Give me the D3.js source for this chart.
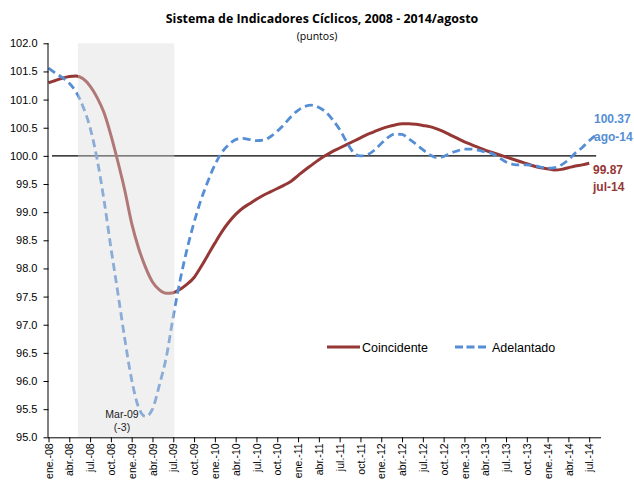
<!DOCTYPE html>
<html>
<head>
<meta charset="utf-8">
<script src="https://cdn.jsdelivr.net/npm/d3@7"></script>
<style>
  body { margin: 0; background: #fff; }
  text { font-family: "Liberation Sans", Arial, sans-serif; }
</style>
</head>
<body>
<script>
// monthly values, ene-08 .. jul-14 (coincidente) and ene-08 .. ago-14 (adelantado)
const coincidente = [
  101.30, 101.34, 101.38, 101.41, 101.42, 101.37, 101.24, 101.04, 100.77, 100.37,
  99.90, 99.39, 98.80, 98.36, 98.02, 97.76, 97.62, 97.56, 97.57, 97.63,
  97.72, 97.84, 98.03, 98.24, 98.45, 98.65, 98.82, 98.96, 99.07, 99.15,
  99.23, 99.30, 99.36, 99.42, 99.48, 99.55, 99.65, 99.75, 99.84, 99.93,
  100.01, 100.08, 100.14, 100.20, 100.26, 100.32, 100.38, 100.43, 100.48, 100.52,
  100.55, 100.57, 100.57, 100.56, 100.54, 100.52, 100.48, 100.43, 100.37, 100.31,
  100.25, 100.20, 100.15, 100.10, 100.06, 100.02, 99.98, 99.94, 99.90, 99.86,
  99.82, 99.79, 99.77, 99.75, 99.76, 99.79, 99.82, 99.84, 99.87
];
const adelantado = [
  101.56, 101.47, 101.39, 101.29, 101.13, 100.87, 100.50, 99.95, 99.22, 98.37,
  97.57, 96.75, 96.02, 95.53, 95.37, 95.50, 95.93, 96.43, 97.15, 97.80,
  98.35, 98.82, 99.22, 99.55, 99.84, 100.06, 100.20, 100.29, 100.31, 100.29,
  100.27, 100.28, 100.34, 100.44, 100.56, 100.70, 100.81, 100.88, 100.90, 100.86,
  100.78, 100.64, 100.47, 100.25, 100.06, 100.00, 100.02, 100.10, 100.22, 100.33,
  100.39, 100.38, 100.30, 100.21, 100.11, 100.02, 99.97, 99.99, 100.05, 100.09,
  100.12, 100.12, 100.10, 100.07, 100.04, 99.97, 99.89, 99.85, 99.84, 99.84,
  99.83, 99.80, 99.78, 99.79, 99.84, 99.93, 100.05, 100.15, 100.27, 100.37
];
// one label every 3 months, starting at ene.-08
const tickLabels = [
  "ene.-08", "abr.-08", "jul.-08", "oct.-08", "ene.-09", "abr.-09", "jul.-09",
  "oct.-09", "ene.-10", "abr.-10", "jul.-10", "oct.-10", "ene.-11", "abr.-11",
  "jul.-11", "oct.-11", "ene.-12", "abr.-12", "jul.-12", "oct.-12", "ene.-13",
  "abr.-13", "jul.-13", "oct.-13", "ene.-14", "abr.-14", "jul.-14"
];
const yTicks = [95, 95.5, 96, 96.5, 97, 97.5, 98, 98.5, 99, 99.5, 100, 100.5, 101, 101.5, 102];
// recession band (month index)
const shade = [4.25, 18.15];

const width = 634, height = 485;
const x = d3.scaleLinear().domain([0, 79.7]).range([48.5, 601]);
const y = d3.scaleLinear().domain([95, 102]).range([437.3, 43.3]);

const svg = d3.select("body").append("svg")
    .attr("width", width)
    .attr("height", height);

// title
svg.append("text")
    .attr("x", 322).attr("y", 23)
    .attr("text-anchor", "middle")
    .style("font-family", "'Open Sans', sans-serif")
    .style("font-weight", "bold")
    .style("font-size", "12.4px")
    .text("Sistema de Indicadores Cíclicos, 2008 - 2014/agosto");
svg.append("text")
    .attr("x", 317).attr("y", 40)
    .attr("text-anchor", "middle")
    .style("font-family", "'Open Sans', sans-serif")
    .style("font-size", "10.5px")
    .text("(puntos)");

const line = d3.line()
    .x((d, i) => x(i))
    .y(d => y(d))
    .curve(d3.curveMonotoneX);

// reference line at 100
svg.append("line")
    .attr("x1", x(0.5)).attr("x2", x(79))
    .attr("y1", y(100)).attr("y2", y(100))
    .attr("stroke", "#000")
    .attr("stroke-width", 1.3);

svg.append("path")
    .datum(coincidente)
    .attr("d", line)
    .attr("fill", "none")
    .attr("stroke", "#953735")
    .attr("stroke-width", 3);

svg.append("path")
    .datum(adelantado)
    .attr("d", line)
    .attr("fill", "none")
    .attr("stroke", "#558ed5")
    .attr("stroke-width", 2.8)
    .attr("stroke-dasharray", "8,4.5");

// shaded band drawn over the lines (fades them, like the original)
svg.append("rect")
    .attr("x", x(shade[0]))
    .attr("width", x(shade[1]) - x(shade[0]))
    .attr("y", y(102))
    .attr("height", y(95) - y(102))
    .attr("fill", "#d9d9d9")
    .attr("opacity", 0.4);

// axes
const yAxis = d3.axisLeft(y)
    .tickValues(yTicks)
    .tickSize(5)
    .tickPadding(6)
    .tickFormat(d3.format(".1f"));
const gy = svg.append("g")
    .attr("transform", "translate(" + x(0) + ",0)")
    .call(yAxis);
gy.select(".domain").attr("d", "M-0.5," + y(102) + "V" + y(95));
gy.selectAll("text").style("font-size", "11px").attr("fill", "#000");

const xAxis = d3.axisBottom(x)
    .tickValues(tickLabels.map((d, i) => i * 3))
    .tickSize(5)
    .tickFormat((d, i) => tickLabels[i]);
const gx = svg.append("g")
    .attr("transform", "translate(0," + y(95) + ")")
    .call(xAxis);
gx.select(".domain").attr("d", "M" + (x(0) - 0.5) + ",0.5H" + x(79.7));
gx.selectAll("text")
    .style("font-size", "10.5px")
    .attr("fill", "#000")
    .attr("text-anchor", "end")
    .attr("transform", "rotate(-90)")
    .attr("x", -6)
    .attr("y", 0)
    .attr("dy", "0.35em");

svg.selectAll(".domain, .tick line").attr("stroke", "#000");

// annotation at the trough
svg.append("text")
    .attr("x", 122).attr("y", 418)
    .attr("text-anchor", "middle")
    .style("font-size", "10.5px")
    .attr("fill", "#222")
    .text("Mar-09");
svg.append("text")
    .attr("x", 122).attr("y", 431)
    .attr("text-anchor", "middle")
    .style("font-size", "10.5px")
    .attr("fill", "#222")
    .text("(-3)");

// last values
const lastA = adelantado.length - 1, lastC = coincidente.length - 1;
svg.append("text")
    .attr("x", 594).attr("y", 123)
    .style("font-size", "12px").style("font-weight", "bold")
    .attr("fill", "#558ed5")
    .text(adelantado[lastA].toFixed(2));
svg.append("text")
    .attr("x", 594).attr("y", 141)
    .style("font-size", "12px").style("font-weight", "bold")
    .attr("fill", "#558ed5")
    .text("ago-14");
svg.append("text")
    .attr("x", 593).attr("y", 174)
    .style("font-size", "12px").style("font-weight", "bold")
    .attr("fill", "#953735")
    .text(coincidente[lastC].toFixed(2));
svg.append("text")
    .attr("x", 593).attr("y", 191)
    .style("font-size", "12px").style("font-weight", "bold")
    .attr("fill", "#953735")
    .text("jul-14");

// legend
const legend = svg.append("g");
legend.append("line")
    .attr("x1", 327).attr("x2", 360).attr("y1", 347).attr("y2", 347)
    .attr("stroke", "#953735").attr("stroke-width", 3);
legend.append("text")
    .attr("x", 362).attr("y", 351.5)
    .style("font-size", "12.5px")
    .text("Coincidente");
legend.append("line")
    .attr("x1", 455).attr("x2", 487).attr("y1", 347).attr("y2", 347)
    .attr("stroke", "#558ed5").attr("stroke-width", 2.8)
    .attr("stroke-dasharray", "8,3.5");
legend.append("text")
    .attr("x", 492).attr("y", 351.5)
    .style("font-size", "12.5px")
    .text("Adelantado");
</script>
</body>
</html>
